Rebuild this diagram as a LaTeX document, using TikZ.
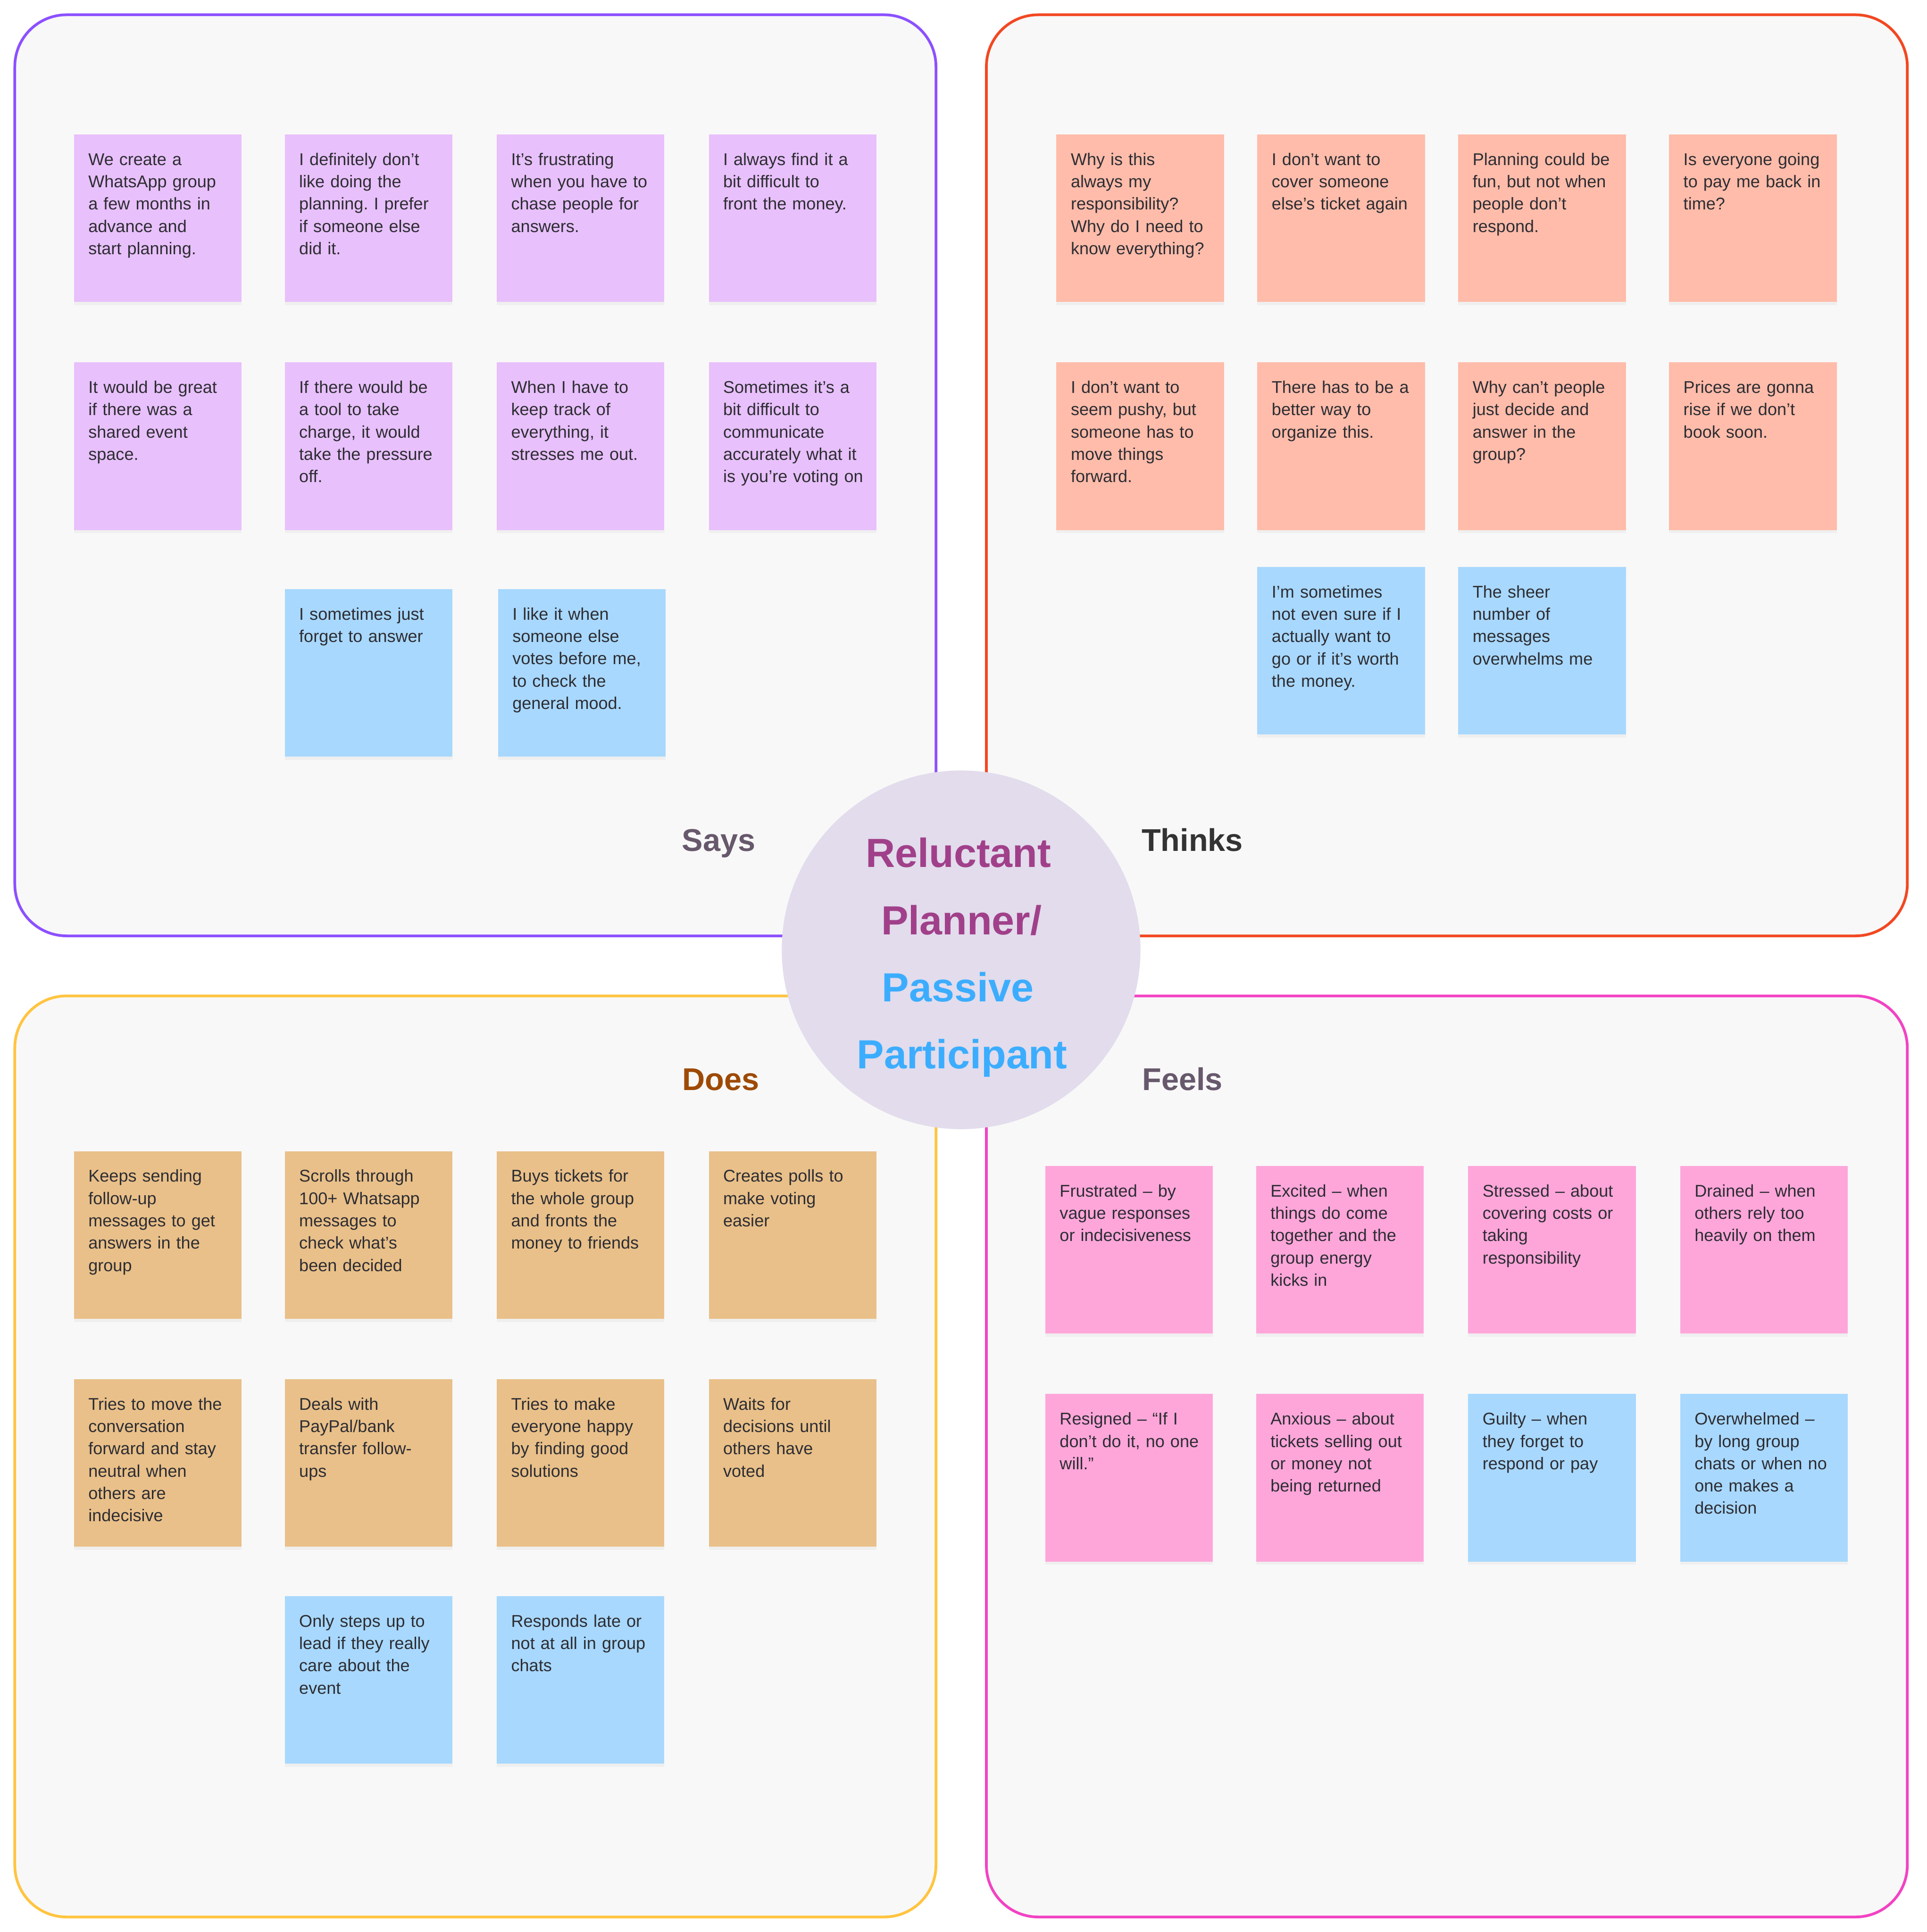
\documentclass[tikz,border=0pt]{standalone}
\usepackage{fontspec}
\setmainfont{Liberation Sans}
\usetikzlibrary{shadows}
\frenchspacing
\definecolor{panelbg}{HTML}{F8F8F8}
\definecolor{saysc}{HTML}{8C50FF}
\definecolor{thinksc}{HTML}{F24822}
\definecolor{doesc}{HTML}{FFC440}
\definecolor{feelsc}{HTML}{F243C3}
\definecolor{circbg}{HTML}{E2DCEC}
\definecolor{reluc}{HTML}{A1408A}
\definecolor{passc}{HTML}{3CADFE}
\definecolor{saylab}{HTML}{67586C}
\definecolor{thinklab}{HTML}{333333}
\definecolor{doeslab}{HTML}{9E4A05}
\definecolor{notetxt}{HTML}{2D2D33}
\definecolor{npurple}{HTML}{E8C0FB}
\definecolor{norange}{HTML}{FFBCAA}
\definecolor{nblue}{HTML}{A8D8FD}
\definecolor{ntan}{HTML}{E9C089}
\definecolor{npink}{HTML}{FEA6DA}
\tikzset{
  panel/.style={fill=panelbg, line width=2.2pt, rounded corners=42pt},
  notebox/.style={anchor=north west, minimum width=136pt, minimum height=136pt,
    inner sep=0pt, outer sep=0pt, draw=none,
    drop shadow={shadow xshift=0pt, shadow yshift=-2.5pt, opacity=0.07}},
  notetext/.style={anchor=base west, xshift=11.5pt, yshift=-25pt, inner sep=0pt,
    text width=130pt, align=left, text=notetxt,
    font=\fontsize{13.8}{18.1}\selectfont},
  heading/.style={anchor=base west, inner sep=0pt, font=\bfseries\fontsize{25.5}{30}\selectfont},
  personatext/.style={anchor=base, inner sep=0pt, font=\bfseries\fontsize{33}{40}\selectfont},
}
\newcommand\stickynote[5]{%
  \node[notebox, fill=#4] (#1) at (#2,#3) {};
  \node[notetext] (#1t) at (#1.north west) {#5};
}
\begin{document}
\begin{tikzpicture}[x=1pt, y=-1pt]
\useasboundingbox (0,0) rectangle (1563,1567.5);
\fill[white] (0,0) rectangle (1563,1567.5);

% panels
\draw[panel, draw=saysc]   (12,12)    rectangle (759.3,759.3);
\draw[panel, draw=thinksc] (800.2,12) rectangle (1547.3,759.3);
\draw[panel, draw=doesc]   (12,808)   rectangle (759.3,1555.3);
\draw[panel, draw=feelsc]  (800.2,808) rectangle (1547.3,1555.3);

% Says
\stickynote{s1}{60}{109}{npurple}{We create a\\WhatsApp group\\a few months in\\advance and\\start planning.}
\stickynote{s2}{231}{109}{npurple}{I definitely don’t\\like doing the\\planning. I prefer\\if someone else\\did it.}
\stickynote{s3}{403}{109}{npurple}{It’s frustrating\\when you have to\\chase people for\\answers.}
\stickynote{s4}{575}{109}{npurple}{I always find it a\\bit difficult to\\front the money.}
\stickynote{s5}{60}{294}{npurple}{It would be great\\if there was a\\shared event\\space.}
\stickynote{s6}{231}{294}{npurple}{If there would be\\a tool to take\\charge, it would\\take the pressure\\off.}
\stickynote{s7}{403}{294}{npurple}{When I have to\\keep track of\\everything, it\\stresses me out.}
\stickynote{s8}{575}{294}{npurple}{Sometimes it’s a\\bit difficult to\\communicate\\accurately what it\\is you’re voting on}
\stickynote{s9}{231}{478}{nblue}{I sometimes just\\forget to answer}
\stickynote{s10}{404}{478}{nblue}{I like it when\\someone else\\votes before me,\\to check the\\general mood.}

% Thinks
\stickynote{t1}{857}{109}{norange}{Why is this\\always my\\responsibility?\\Why do I need to\\know everything?}
\stickynote{t2}{1020}{109}{norange}{I don’t want to\\cover someone\\else’s ticket again}
\stickynote{t3}{1183}{109}{norange}{Planning could be\\fun, but not when\\people don’t\\respond.}
\stickynote{t4}{1354}{109}{norange}{Is everyone going\\to pay me back in\\time?}
\stickynote{t5}{857}{294}{norange}{I don’t want to\\seem pushy, but\\someone has to\\move things\\forward.}
\stickynote{t6}{1020}{294}{norange}{There has to be a\\better way to\\organize this.}
\stickynote{t7}{1183}{294}{norange}{Why can’t people\\just decide and\\answer in the\\group?}
\stickynote{t8}{1354}{294}{norange}{Prices are gonna\\rise if we don’t\\book soon.}
\stickynote{t9}{1020}{460}{nblue}{I’m sometimes\\not even sure if I\\actually want to\\go or if it’s worth\\the money.}
\stickynote{t10}{1183}{460}{nblue}{The sheer\\number of\\messages\\overwhelms me}

% Does
\stickynote{d1}{60}{934}{ntan}{Keeps sending\\follow-up\\messages to get\\answers in the\\group}
\stickynote{d2}{231}{934}{ntan}{Scrolls through\\100+ Whatsapp\\messages to\\check what’s\\been decided}
\stickynote{d3}{403}{934}{ntan}{Buys tickets for\\the whole group\\and fronts the\\money to friends}
\stickynote{d4}{575}{934}{ntan}{Creates polls to\\make voting\\easier}
\stickynote{d5}{60}{1119}{ntan}{Tries to move the\\conversation\\forward and stay\\neutral when\\others are\\indecisive}
\stickynote{d6}{231}{1119}{ntan}{Deals with\\PayPal/bank\\transfer follow-\\ups}
\stickynote{d7}{403}{1119}{ntan}{Tries to make\\everyone happy\\by finding good\\solutions}
\stickynote{d8}{575}{1119}{ntan}{Waits for\\decisions until\\others have\\voted}
\stickynote{d9}{231}{1295}{nblue}{Only steps up to\\lead if they really\\care about the\\event}
\stickynote{d10}{403}{1295}{nblue}{Responds late or\\not at all in group\\chats}

% Feels
\stickynote{f1}{848}{946}{npink}{Frustrated – by\\vague responses\\or indecisiveness}
\stickynote{f2}{1019}{946}{npink}{Excited – when\\things do come\\together and the\\group energy\\kicks in}
\stickynote{f3}{1191}{946}{npink}{Stressed – about\\covering costs or\\taking\\responsibility}
\stickynote{f4}{1363}{946}{npink}{Drained – when\\others rely too\\heavily on them}
\stickynote{f5}{848}{1131}{npink}{Resigned – “If I\\don’t do it, no one\\will.”}
\stickynote{f6}{1019}{1131}{npink}{Anxious – about\\tickets selling out\\or money not\\being returned}
\stickynote{f7}{1191}{1131}{nblue}{Guilty – when\\they forget to\\respond or pay}
\stickynote{f8}{1363}{1131}{nblue}{Overwhelmed –\\by long group\\chats or when no\\one makes a\\decision}

% headings
\node[heading, text=saylab]   (lsays)   at (553,690.6) {Says};
\node[heading, text=thinklab] (lthinks) at (926,690.6) {Thinks};
\node[heading, text=doeslab]  (ldoes)   at (553.5,884.5) {Does};
\node[heading, text=saylab]   (lfeels)  at (926.5,884.5) {Feels};

% center circle
\node[circle, fill=circbg, minimum size=291pt, inner sep=0pt] (persona) at (779.7,770.6) {};
\node[personatext, text=reluc] (p1) at (777.5,703.7) {Reluctant};
\node[personatext, text=reluc] (p2) at (780,758.2) {Planner/};
\node[personatext, text=passc] (p3) at (777,812.5) {Passive};
\node[personatext, text=passc] (p4) at (780.5,867.1) {Participant};
\end{tikzpicture}
\end{document}
